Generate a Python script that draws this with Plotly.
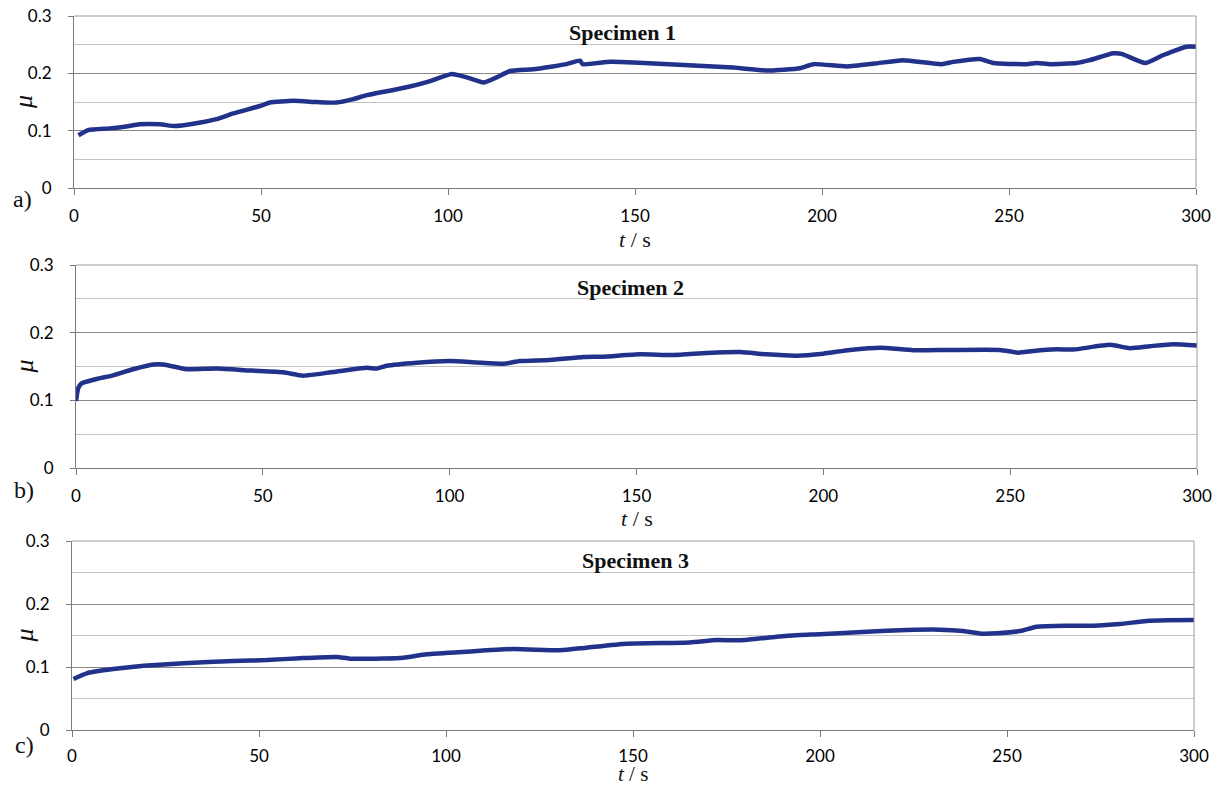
import plotly.graph_objects as go

W, H = 1221, 787

# ---- data ----
t1 = [1.2, 3.8, 9.6, 13.5, 17.6, 23, 27, 31.9, 38.1, 42.6, 49.7, 52.4, 58.6, 64.9, 70.2, 74.7, 78.3,
      85.4, 89.8, 95, 101, 105, 109.5, 113, 116.6, 122.8, 128, 131.7, 135.3, 136, 143.3, 149.6, 163,
      176.3, 185.2, 194.1, 197.7, 206.6, 214, 221.7, 232, 235.1, 242.2, 245.8, 254.7, 257.4, 261,
      268, 271.6, 277.9, 280.1, 286.4, 291.3, 297.5, 300]
mu1 = [0.092, 0.101, 0.104, 0.107, 0.111, 0.111, 0.108, 0.112, 0.120, 0.130, 0.143, 0.149, 0.152,
       0.150, 0.149, 0.155, 0.162, 0.171, 0.177, 0.186, 0.199, 0.193, 0.184, 0.193, 0.204, 0.207,
       0.212, 0.216, 0.222, 0.216, 0.220, 0.219, 0.2145, 0.210, 0.205, 0.209, 0.216, 0.212, 0.217,
       0.223, 0.216, 0.220, 0.225, 0.218, 0.216, 0.218, 0.216, 0.218, 0.223, 0.235, 0.234, 0.218,
       0.232, 0.2465, 0.2465]

t2 = [0, 0.6, 1.5, 5.5, 10, 15.3, 20.7, 23.4, 29.6, 37.7, 46.6, 55.5, 60.8, 68.9, 77.8, 80.5, 83.1,
      91.2, 100.1, 107, 114.4, 118.8, 126.8, 135.8, 141.1, 150.9, 159.8, 168.8, 177.7, 184.8, 192.8,
      200, 207.1, 215.2, 224.1, 233.9, 247.3, 252.2, 256.2, 262.4, 266.9, 276.7, 282.1, 287.4,
      293.6, 300]
mu2 = [0.099, 0.118, 0.125, 0.1315, 0.137, 0.146, 0.153, 0.153, 0.146, 0.147, 0.144, 0.1415, 0.1365,
       0.142, 0.148, 0.147, 0.151, 0.1556, 0.158, 0.156, 0.154, 0.158, 0.1596, 0.164, 0.1645, 0.168,
       0.167, 0.170, 0.1714, 0.168, 0.166, 0.169, 0.1744, 0.1778, 0.174, 0.1744, 0.1744, 0.1704,
       0.173, 0.1754, 0.175, 0.182, 0.177, 0.180, 0.183, 0.181]

t3 = [0.4, 3.9, 7.5, 12.8, 19.1, 29.8, 43.1, 52.1, 61, 70.8, 74.3, 83.2, 88.6, 94.8, 105.5, 118,
      130.5, 137.6, 148.3, 165.2, 172.4, 178.6, 188.4, 194.7, 200, 212.5, 223.2, 232.1, 238.3,
      243.2, 247.2, 253.5, 257.9, 265.9, 273, 280.2, 287.3, 292.6, 300]
mu3 = [0.081, 0.090, 0.094, 0.098, 0.102, 0.106, 0.1095, 0.111, 0.114, 0.116, 0.1132, 0.1135,
       0.1148, 0.1201, 0.1243, 0.1286, 0.1265, 0.1307, 0.137, 0.139, 0.1429, 0.1423, 0.148, 0.1508,
       0.1519, 0.156, 0.1587, 0.1593, 0.1571, 0.1529, 0.1534, 0.1571, 0.164, 0.1656, 0.1656, 0.1683,
       0.173, 0.1741, 0.1746]

titles = ["Specimen 1", "Specimen 2", "Specimen 3"]
panel_labels = ["a)", "b)", "c)"]
x_ticks = [0, 50, 100, 150, 200, 250, 300]
y_ticks = [0, 0.1, 0.2, 0.3]
y_tick_text = ["0", "0.1", "0.2", "0.3"]

series = [(t1, mu1), (t2, mu2), (t3, mu3)]

# plot-area boxes in window pixels (left, right, top, bottom)
boxes = [(74, 1196, 16, 188), (76, 1197, 265, 468), (72, 1194, 541, 730)]
title_pos = [(623, 32), (630, 287), (635, 560)]
label_pos = [(22, 199), (24, 490), (24, 745)]
xtitle_y = [240, 518, 774]
xtitle_size = [22, 22, 21]
xtick_standoff = [7, 7, 5]


def px(x):
    return x / W


def py(y):
    return 1 - y / H


LINE = "#22328a"
AX = "#7a7a7a"
MAJ = "#878787"
MIN = "#c4c4c4"
TICKFONT = dict(family="Lato", size=17, color="#000000")

fig = go.Figure()
layout = dict(width=W, height=H, margin=dict(l=0, r=0, t=0, b=0, autoexpand=False),
              plot_bgcolor="white", paper_bgcolor="white", showlegend=False)
annotations = []
shapes = []

for i, ((tx, my), (l, r, tp, bt)) in enumerate(zip(series, boxes)):
    n = "" if i == 0 else str(i + 1)
    xa, ya = "x" + n, "y" + n
    fig.add_trace(go.Scatter(x=tx, y=my, mode="lines", xaxis=xa, yaxis=ya,
                             line=dict(color=LINE, width=4.5, shape="spline", smoothing=0.5)))
    layout["xaxis" + n] = dict(
        domain=[px(l), px(r)], anchor=ya, range=[0, 300], tickvals=x_ticks,
        showgrid=False, zeroline=False, showline=True, linecolor=AX, linewidth=1,
        ticks="outside", ticklen=6, tickcolor=AX, ticklabelstandoff=xtick_standoff[i],
        ticklabeloverflow="allow", tickfont=TICKFONT)
    layout["yaxis" + n] = dict(
        domain=[py(bt), py(tp)], anchor=xa, range=[0, 0.3],
        tickvals=y_ticks, ticktext=y_tick_text,
        showgrid=True, gridcolor=MAJ, gridwidth=1, zeroline=False,
        showline=True, linecolor=AX, linewidth=1,
        ticks="outside", ticklen=5, tickcolor=AX, ticklabelstandoff=13,
        ticklabeloverflow="allow", tickfont=TICKFONT,
        minor=dict(dtick=0.05, showgrid=True, gridcolor=MIN, gridwidth=1, ticks=""))
    # right border and top border
    shapes.append(dict(type="line", xref=xa + " domain", yref=ya + " domain",
                       x0=1, x1=1, y0=0, y1=1, line=dict(color="#9a9a9a", width=1)))
    shapes.append(dict(type="line", xref=xa + " domain", yref=ya + " domain",
                       x0=0, x1=1, y0=1, y1=1, line=dict(color="#9a9a9a", width=1)))
    common = dict(xref="paper", yref="paper", showarrow=False,
                  xanchor="center", yanchor="middle")
    tx_, ty_ = title_pos[i]
    annotations.append(dict(text="<b>" + titles[i] + "</b>", x=px(tx_), y=py(ty_),
                            font=dict(family="Liberation Serif", size=22, color="#111111"),
                            **common))
    lx, ly = label_pos[i]
    annotations.append(dict(text=panel_labels[i], x=px(lx), y=py(ly),
                            font=dict(family="Liberation Serif", size=24, color="#111111"),
                            **common))
    annotations.append(dict(text="<i>t</i> / s", x=px((l + r) / 2), y=py(xtitle_y[i]),
                            font=dict(family="Liberation Serif", size=xtitle_size[i],
                                      color="#111111"),
                            **common))
    annotations.append(dict(text="<i>μ</i>", x=px(24), y=py((tp + bt) / 2), textangle=-90,
                            font=dict(family="Liberation Serif", size=26, color="#111111"),
                            **common))

layout["annotations"] = annotations
layout["shapes"] = shapes
fig.update_layout(**layout)
fig.write_html("out.html", config={"displayModeBar": False},
               post_script="document.body.style.margin='0';document.body.style.overflow='hidden';")
